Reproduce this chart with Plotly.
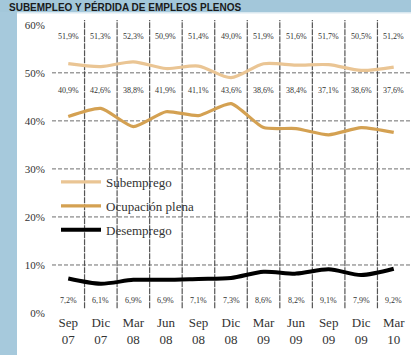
import plotly.graph_objects as go

# ---- data ----
months = ["Sep<br>07", "Dic<br>07", "Mar<br>08", "Jun<br>08", "Sep<br>08", "Dic<br>08",
          "Mar<br>09", "Jun<br>09", "Sep<br>09", "Dic<br>09", "Mar<br>10"]
subemprego = [51.9, 51.3, 52.3, 50.9, 51.4, 49.0, 51.9, 51.6, 51.7, 50.5, 51.2]
ocupacion = [40.9, 42.6, 38.8, 41.9, 41.1, 43.6, 38.6, 38.4, 37.1, 38.6, 37.6]
desemprego = [7.2, 6.1, 6.9, 6.9, 7.1, 7.3, 8.6, 8.2, 9.1, 7.9, 9.2]
y_ticks = [0, 10, 20, 30, 40, 50, 60]
y_tick_text = ["0%", "10%", "20%", "30%", "40%", "50%", "60%"]
title_text = "SUBEMPLEO Y PÉRDIDA DE EMPLEOS PLENOS"

W, H = 411, 355
ML, MR, MT, MB = 52, 1, 20, 42
pw, ph = W - ML - MR, H - MT - MB
YMAX = 61.0

def px_x(p):
    return (p - ML) / pw

def px_y(p):
    return (H - MB - p) / ph

SERIF = "Liberation Serif"
x = list(range(len(months)))

fig = go.Figure()
fig.add_trace(go.Scatter(x=x, y=subemprego, name="Subemprego", mode="lines",
                         line=dict(color="#eac594", width=3.2, shape="spline", smoothing=0.8),
                         legendgroup="a"))
fig.add_trace(go.Scatter(x=x, y=ocupacion, name="Ocupación plena", mode="lines",
                         line=dict(color="#d4a152", width=3.2, shape="spline", smoothing=0.6),
                         legendgroup="b"))
fig.add_trace(go.Scatter(x=x, y=desemprego, name="Desemprego", mode="lines",
                         line=dict(color="#000000", width=4, shape="spline", smoothing=0.8),
                         legendgroup="c"))

shapes = []
shapes.append(dict(type="rect", xref="paper", yref="paper",
                   x0=px_x(0), x1=px_x(17), y0=px_y(H), y1=px_y(0),
                   fillcolor="#a6c9dc", line=dict(width=0), layer="below"))
shapes.append(dict(type="rect", xref="paper", yref="paper",
                   x0=px_x(0), x1=px_x(W), y0=px_y(12), y1=px_y(0),
                   fillcolor="#a3c7da", line=dict(width=0), layer="below"))
shapes.append(dict(type="rect", xref="paper", yref="paper",
                   x0=px_x(17), x1=px_x(W), y0=px_y(13.5), y1=px_y(12),
                   fillcolor="#d9e8f0", line=dict(width=0), layer="below"))
for v in y_ticks[1:-1]:
    shapes.append(dict(type="line", xref="paper", yref="y", x0=0, x1=1, y0=v, y1=v,
                       line=dict(color="#6e6e6e", width=1, dash="4px,2px"), layer="below"))
for i in range(len(months) - 1):
    shapes.append(dict(type="line", xref="x", yref="y", x0=i + 0.5, x1=i + 0.5, y0=1, y1=YMAX,
                       line=dict(color="#555555", width=1.2, dash="6px,1px"), layer="below"))

annotations = []
row_pos = [(subemprego, 57.6), (ocupacion, 46.3), (desemprego, 2.6)]
for series, ypos in row_pos:
    for i, v in enumerate(series):
        annotations.append(dict(x=i, y=ypos, xref="x", yref="y", showarrow=False,
                                text=f"{v:.1f}%".replace(".", ","),
                                font=dict(family=SERIF, size=8, color="#333333")))
annotations.append(dict(x=px_x(8), y=px_y(0), xref="paper", yref="paper", showarrow=False,
                        xanchor="left", yanchor="top", text="<b>" + title_text + "</b>",
                        borderpad=0,
                        font=dict(family="Liberation Sans", size=10, color="#1a1a1a")))

fig.update_layout(
    width=W, height=H,
    margin=dict(l=ML, r=MR, t=MT, b=MB, pad=0),
    paper_bgcolor="white", plot_bgcolor="rgba(0,0,0,0)",
    showlegend=True,
    legend=dict(x=px_x(56), y=px_y(167), xanchor="left", yanchor="top",
                bgcolor="rgba(0,0,0,0)", font=dict(family=SERIF, size=13, color="#333333"),
                tracegroupgap=4, itemwidth=40),
    shapes=shapes,
    annotations=annotations,
    xaxis=dict(range=[-0.5, len(months) - 0.5], tickvals=x, ticktext=months,
               showgrid=False, zeroline=False, showline=False, ticks="",
               tickfont=dict(family=SERIF, size=13, color="#333333"), fixedrange=True),
    yaxis=dict(range=[0, YMAX], tickvals=y_ticks, ticktext=y_tick_text,
               showgrid=False, zeroline=False, showline=False, ticks="",
               ticklabelstandoff=6,
               tickfont=dict(family=SERIF, size=11, color="#333333"), fixedrange=True),
)

fig.write_html("out.html")
